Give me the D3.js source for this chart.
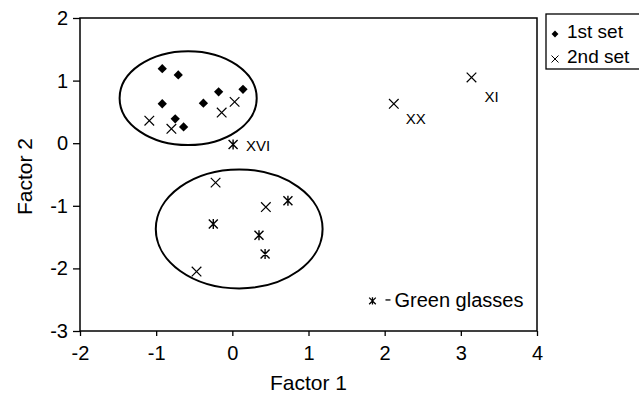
<!DOCTYPE html>
<html>
<head>
<meta charset="utf-8">
<script src="https://cdn.jsdelivr.net/npm/d3@7"></script>
<style>
body{margin:0;background:#fff;}
text{font-family:"Liberation Sans",Arial,sans-serif;fill:#000;}
</style>
</head>
<body>
<svg id="chart" width="639" height="396"></svg>
<script>
// 1st set (diamonds)
var set1X = [-0.92, -0.71, -0.18, 0.14, -0.92, -0.38, -0.75, -0.64];
var set1Y = [1.19, 1.09, 0.82, 0.86, 0.63, 0.64, 0.39, 0.26];
// 2nd set (crosses)
var set2X = [-1.09, -0.80, -0.14, 0.03, -0.22, 0.44, -0.47, 2.12, 3.14];
var set2Y = [0.36, 0.23, 0.49, 0.66, -0.63, -1.02, -2.05, 0.63, 1.05];
// green glasses (asterisks)
var greenX = [0.01, 0.73, -0.25, 0.35, 0.43];
var greenY = [-0.02, -0.92, -1.29, -1.47, -1.77];
// labelled samples
var labelNames = ["XVI", "XX", "XI"];
var labelX = [0.01, 2.12, 3.14];
var labelY = [-0.02, 0.63, 1.05];
// cluster ellipses: centre and radii in data units
var ellCx = [-0.58, 0.09];
var ellCy = [0.72, -1.37];
var ellRx = [0.90, 1.095];
var ellRy = [0.75, 0.95];
var xTicks = [-2, -1, 0, 1, 2, 3, 4];
var yTicks = [-3, -2, -1, 0, 1, 2];
var legendNames = ["1st set", "2nd set"];

var svg = d3.select("#chart");
var margin = {left:80, top:18, right:102, bottom:65};
var width = 639 - margin.left - margin.right;
var height = 396 - margin.top - margin.bottom;

var x = d3.scaleLinear().domain([-2, 4]).range([0, width]);
var y = d3.scaleLinear().domain([-3, 2]).range([height, 0]);

var chart = svg.append("g").attr("transform", "translate(" + margin.left + "," + margin.top + ")");

// frame
chart.append("rect").attr("x", 0).attr("y", 0).attr("width", width).attr("height", height)
    .attr("fill", "none").attr("stroke", "#000").attr("stroke-width", 1.5);

var xaxis = d3.axisBottom(x).tickValues(xTicks).tickSize(5).tickPadding(10).tickFormat(function(d){ return String(d); });
var yaxis = d3.axisLeft(y).tickValues(yTicks).tickSize(7).tickPadding(5).tickFormat(function(d){ return String(d); });
var gx = chart.append("g").attr("transform", "translate(0," + height + ")").call(xaxis);
var gy = chart.append("g").call(yaxis);
[gx, gy].forEach(function(g){
    g.select(".domain").remove();
    g.selectAll("line").attr("stroke", "#000").attr("stroke-width", 1.3);
    g.selectAll("text").style("font-size", "20px").attr("font-family", "Liberation Sans, Arial, sans-serif");
});

chart.append("text").attr("x", width / 2).attr("y", height + 59).attr("text-anchor", "middle")
    .style("font-size", "21px").text("Factor 1");
chart.append("text").attr("transform", "translate(" + (-48) + "," + (height / 2 + 2) + ") rotate(-90)")
    .attr("text-anchor", "middle").style("font-size", "21px").text("Factor 2");

// ellipses
chart.selectAll("ellipse.cl").data(ellCx).enter().append("ellipse").attr("class", "cl")
    .attr("cx", function(d){ return x(d); })
    .attr("cy", function(d, i){ return y(ellCy[i]); })
    .attr("rx", function(d, i){ return x(ellRx[i]) - x(0); })
    .attr("ry", function(d, i){ return y(0) - y(ellRy[i]); })
    .attr("fill", "none").attr("stroke", "#000").attr("stroke-width", 2);

var diamond = d3.symbol().type(d3.symbolDiamond2).size(55);
function crossPath(s){
    return "M" + (-s) + "," + (-s) + "L" + s + "," + s + "M" + (-s) + "," + s + "L" + s + "," + (-s);
}
function starPath(s){
    return crossPath(s) + "M0," + (-s * 1.1) + "L0," + (s * 1.1);
}

chart.selectAll("path.s1").data(set1X).enter().append("path").attr("class", "s1")
    .attr("transform", function(d, i){ return "translate(" + x(d) + "," + y(set1Y[i]) + ")"; })
    .attr("d", diamond).attr("fill", "#000");

chart.selectAll("path.s2").data(set2X).enter().append("path").attr("class", "s2")
    .attr("transform", function(d, i){ return "translate(" + x(d) + "," + y(set2Y[i]) + ")"; })
    .attr("d", crossPath(4.8)).attr("stroke", "#000").attr("stroke-width", 1.2).attr("fill", "none");

chart.selectAll("path.gg").data(greenX).enter().append("path").attr("class", "gg")
    .attr("transform", function(d, i){ return "translate(" + x(d) + "," + y(greenY[i]) + ")"; })
    .attr("d", starPath(4.5)).attr("stroke", "#000").attr("stroke-width", 1.4).attr("fill", "none");

// sample labels
var labOff = [[13, 1], [12, 15], [13, 19]];
chart.selectAll("text.lab").data(labelNames).enter().append("text").attr("class", "lab")
    .attr("x", function(d, i){ return x(labelX[i]) + labOff[i][0]; })
    .attr("y", function(d, i){ return y(labelY[i]) + labOff[i][1]; })
    .attr("dy", "0.35em").style("font-size", "15px").text(function(d){ return d; });

// green glasses key inside plot
var gk = chart.append("g").attr("transform", "translate(" + (x(1.84)) + "," + (y(-2.52)) + ")");
gk.append("path").attr("d", starPath(3.3)).attr("stroke", "#000").attr("stroke-width", 1.3).attr("fill", "none");
gk.append("line").attr("x1", 13).attr("x2", 18).attr("y1", -1).attr("y2", -1).attr("stroke", "#000").attr("stroke-width", 1.3);
gk.append("text").attr("x", 22).attr("y", 6).style("font-size", "20px").text("Green glasses");

// legend
var lg = svg.append("g").attr("transform", "translate(546,14)");
lg.append("rect").attr("x", 0).attr("y", 0).attr("width", 120).attr("height", 55)
    .attr("fill", "#fff").attr("stroke", "#000").attr("stroke-width", 1.3);
var li = lg.selectAll("g.li").data(legendNames).enter().append("g").attr("class", "li")
    .attr("transform", function(d, i){ return "translate(9," + (20 + i * 25) + ")"; });
li.filter(function(d, i){ return i == 0; }).append("path").attr("d", d3.symbol().type(d3.symbolDiamond2).size(30)).attr("fill", "#000");
li.filter(function(d, i){ return i == 1; }).append("path").attr("d", crossPath(3.5))
    .attr("stroke", "#000").attr("stroke-width", 1).attr("fill", "none");
li.append("text").attr("x", 12).attr("y", 4).style("font-size", "19px").text(function(d){ return d; });
</script>
</body>
</html>
